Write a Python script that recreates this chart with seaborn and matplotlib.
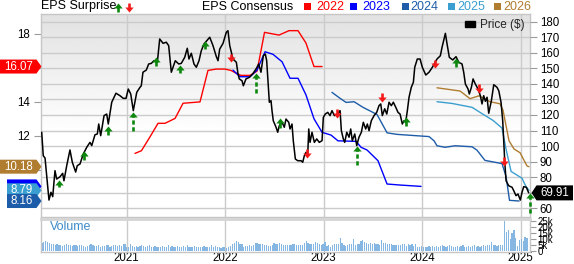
import numpy as np
import pandas as pd
import matplotlib
matplotlib.use("Agg")
import matplotlib.pyplot as plt
import matplotlib.transforms as mtransforms
from matplotlib.patches import Polygon, Rectangle, Patch
from matplotlib.lines import Line2D
from matplotlib.path import Path
import seaborn as sns

sns.set_theme(style="white")
plt.rcParams['font.family'] = ['Liberation Sans', 'DejaVu Sans']

# ------------------------------------------------------------------ data
price_t = [2020.137, 2020.153, 2020.171, 2020.211, 2020.231, 2020.249, 2020.272, 2020.289, 2020.323, 2020.350,
           2020.363, 2020.391, 2020.424, 2020.448, 2020.482, 2020.498, 2020.526, 2020.559, 2020.594, 2020.627,
           2020.645, 2020.678, 2020.702, 2020.716, 2020.736, 2020.770, 2020.797, 2020.813, 2020.848, 2020.891,
           2020.932, 2020.965, 2020.993, 2021.016, 2021.041, 2021.067, 2021.102, 2021.135, 2021.148, 2021.165,
           2021.199, 2021.223, 2021.250, 2021.277, 2021.311, 2021.335, 2021.369, 2021.402, 2021.426, 2021.453,
           2021.493, 2021.528, 2021.554, 2021.589, 2021.615, 2021.632, 2021.656, 2021.683, 2021.707, 2021.734,
           2021.757, 2021.785, 2021.818, 2021.843, 2021.876, 2021.910, 2021.927, 2021.944, 2021.978, 2022.011,
           2022.028, 2022.046, 2022.079, 2022.113, 2022.130, 2022.143, 2022.171, 2022.184, 2022.211, 2022.245,
           2022.279, 2022.313, 2022.340, 2022.363, 2022.387, 2022.407, 2022.421, 2022.438, 2022.448, 2022.465,
           2022.475, 2022.488, 2022.516, 2022.533, 2022.549, 2022.577, 2022.600, 2022.617, 2022.645, 2022.658,
           2022.678, 2022.691, 2022.712, 2022.736, 2022.770, 2022.787, 2022.803, 2022.820, 2022.838, 2022.848,
           2022.861, 2022.881, 2022.905, 2022.929, 2022.955, 2022.983, 2022.996, 2023.016, 2023.041, 2023.064,
           2023.084, 2023.108, 2023.138, 2023.166, 2023.179, 2023.199, 2023.213, 2023.234, 2023.257, 2023.274,
           2023.290, 2023.315, 2023.335, 2023.358, 2023.382, 2023.402, 2023.426, 2023.443, 2023.460, 2023.483,
           2023.511, 2023.538, 2023.561, 2023.579, 2023.595, 2023.619, 2023.640, 2023.663, 2023.686, 2023.707,
           2023.731, 2023.754, 2023.775, 2023.798, 2023.815, 2023.832, 2023.849, 2023.866, 2023.889, 2023.910,
           2023.924, 2023.950, 2023.978, 2024.001, 2024.036, 2024.069, 2024.103, 2024.150, 2024.184, 2024.201,
           2024.235, 2024.252, 2024.275, 2024.310, 2024.343, 2024.371, 2024.404, 2024.421, 2024.438, 2024.465,
           2024.478, 2024.499, 2024.516, 2024.539, 2024.567, 2024.590, 2024.607, 2024.624, 2024.641, 2024.658,
           2024.675, 2024.702, 2024.726, 2024.759, 2024.777, 2024.800, 2024.817, 2024.827, 2024.838, 2024.851,
           2024.878, 2024.912, 2024.929, 2024.952, 2024.972, 2024.996, 2025.013, 2025.030, 2025.057, 2025.081]
price_v = [108.9, 93.8, 92.3, 65.3, 70.3, 67.5, 84.2, 78.8, 80.3, 82.5,
           77.7, 87.4, 97.5, 89.6, 83.3, 87.4, 88.5, 94.9, 99.2, 102.4,
           100.3, 107.3, 107.8, 114.2, 106.7, 119.6, 120.6, 114.2, 128.2, 134.0,
           132.4, 130.7, 130.7, 136.7, 133.5, 122.8, 134.6, 137.8, 138.8, 147.5,
           148.9, 152.8, 153.2, 154.9, 153.9, 168.9, 166.1, 166.8, 164.6, 147.5,
           154.9, 152.8, 153.2, 157.1, 162.9, 156.0, 159.7, 152.8, 150.7, 154.9,
           161.3, 165.7, 168.2, 170.0, 164.6, 157.5, 154.9, 162.4, 166.1, 173.2,
           174.2, 164.6, 156.0, 153.9, 146.4, 143.2, 142.0, 138.8, 143.2, 144.2,
           146.4, 149.6, 152.8, 147.5, 158.1, 159.2, 154.9, 137.8, 128.2, 129.2,
           122.8, 116.3, 112.1, 108.9, 113.1, 115.3, 112.1, 117.4, 115.3, 111.0,
           114.2, 103.5, 91.7, 90.6, 90.6, 89.6, 93.8, 96.0, 94.9, 111.0,
           102.4, 108.9, 102.4, 104.6, 102.4, 103.5, 118.5, 120.6, 121.7, 119.6,
           122.8, 119.6, 120.6, 122.8, 109.9, 104.6, 102.4, 108.9, 105.7, 111.0,
           103.5, 107.8, 100.3, 105.7, 108.9, 115.3, 111.0, 114.2, 109.9, 116.3,
           119.6, 121.7, 126.0, 127.1, 119.6, 124.0, 120.6, 128.2, 126.0, 128.2,
           125.0, 121.7, 120.6, 114.2, 116.3, 115.3, 122.8, 131.4, 137.8, 141.0,
           150.7, 156.0, 156.0, 150.7, 145.7, 147.5, 150.7, 156.0, 158.1, 163.5,
           172.5, 165.7, 157.1, 155.4, 157.5, 153.9, 152.8, 147.5, 139.9, 136.7,
           133.5, 137.8, 143.2, 139.9, 136.7, 132.4, 127.1, 132.4, 128.8, 131.4,
           121.1, 129.2, 139.5, 137.8, 135.6, 128.2, 116.3, 103.5, 89.6, 77.7,
           74.5, 73.5, 71.3, 68.1, 69.2, 65.3, 70.3, 73.9, 73.5, 69.9]
last_price = 69.91

eps22_t = [2021.084, 2021.150, 2021.237, 2021.318, 2021.389, 2021.491, 2021.572, 2021.744, 2021.825, 2021.907,
           2021.998, 2022.059, 2022.120, 2022.160, 2022.252, 2022.323, 2022.399, 2022.546, 2022.648, 2022.739,
           2022.820, 2022.901, 2022.983]
eps22_v = [10.96, 11.12, 11.94, 12.73, 12.73, 13.02, 13.91, 13.99, 15.84, 15.92,
           15.92, 15.84, 15.65, 15.55, 15.55, 15.80, 18.08, 17.92, 18.18, 18.18,
           17.45, 16.07, 16.07]
eps23_t = [2022.079, 2022.150, 2022.252, 2022.323, 2022.404, 2022.485, 2022.577, 2022.658, 2022.739, 2022.820,
           2022.901, 2022.983, 2023.074, 2023.145, 2023.328, 2023.379, 2023.440, 2023.551, 2023.643, 2023.775,
           2023.988]
eps23_v = [15.86, 15.47, 15.47, 15.86, 16.94, 16.79, 16.35, 15.38, 15.38, 14.40,
           13.00, 12.20, 12.04, 11.70, 11.67, 11.32, 11.16, 10.53, 9.16, 9.10,
           9.02]
eps24_t = [2023.084, 2023.166, 2023.227, 2023.308, 2023.399, 2023.541, 2023.643, 2023.744, 2024.069, 2024.120,
           2024.150, 2024.231, 2024.333, 2024.506, 2024.556, 2024.637, 2024.810, 2024.851, 2024.886, 2024.983]
eps24_v = [14.55, 14.20, 13.96, 14.00, 13.67, 13.25, 12.17, 12.08, 11.95, 11.70,
           11.41, 11.32, 11.41, 11.35, 11.15, 10.55, 10.36, 9.60, 8.20, 8.16]
eps25_t = [2024.150, 2024.302, 2024.506, 2024.607, 2024.719, 2024.810, 2024.851, 2024.902, 2025.013, 2025.054,
           2025.084]
eps25_v = [14.00, 13.90, 13.67, 13.30, 12.90, 12.45, 11.20, 9.90, 9.50, 9.00,
           8.79]
eps26_t = [2024.150, 2024.384, 2024.485, 2024.577, 2024.688, 2024.790, 2024.820, 2024.881, 2024.932, 2024.993,
           2025.064, 2025.084]
eps26_v = [14.82, 14.63, 14.18, 14.35, 14.00, 13.88, 13.50, 11.70, 11.22, 11.00,
           10.22, 10.18]
fiscal_years = ["2022", "2023", "2024", "2025", "2026"]
eps_last_label = {"2022": "16.07", "2023": None, "2024": "8.16", "2025": "8.79", "2026": "10.18"}

# EPS surprise arrows (beat = up, miss = down), head and tail in price units
beat_t = [2020.316, 2020.567, 2020.813, 2021.067, 2021.301, 2021.545, 2021.799, 2022.313, 2022.559,
          2023.335, 2023.832, 2024.338, 2025.094]
beat_tip = [78.4, 96.7, 112.7, 121.7, 157.1, 152.3, 167.8, 146.8, 117.9, 100.3, 118.5, 156.4, 70.0]
beat_tail = [73.5, 91.3, 107.3, 109.5, 151.3, 147.0, 162.4, 134.0, 111.6, 88.0, 112.7, 150.7, 57.2]
miss_t = [2022.062, 2022.827, 2023.138, 2023.589, 2024.127, 2024.572, 2024.827]
miss_tip = [154.3, 92.3, 118.1, 128.2, 150.2, 134.1, 87.0]
miss_tail = [159.2, 98.1, 123.9, 134.1, 155.6, 139.9, 92.8]

# weekly volume (thousands)
vol_start = "2020-02-21"
vol_2020 = [7.0, 7.5, 8.0, 7.5, 6.5, 5.5, 6.0, 5.0, 5.5, 4.5,
            5.0, 4.0, 5.0, 5.5, 4.5, 5.0, 4.0, 4.5, 5.0, 4.0,
            4.5, 5.0, 4.0, 3.5, 4.0, 4.5, 6.0, 5.0, 4.0, 4.0,
            4.5, 3.5, 4.0, 4.0, 4.5, 5.0, 3.5, 4.0, 4.5, 5.0,
            4.0, 5.0, 4.0, 5.5, 6.0]
vol_2021 = [3.0, 3.5, 5.5, 4.0, 3.5, 4.0, 3.5, 4.0, 4.5, 4.0,
            3.5, 4.0, 4.5, 3.5, 3.5, 4.0, 3.5, 3.0, 3.5, 4.0,
            3.5, 3.5, 4.5, 3.5, 4.0, 3.0, 3.5, 4.0, 3.5, 3.5,
            4.0, 3.5, 4.5, 3.0, 3.5, 3.5, 4.0, 3.0, 3.5, 3.0,
            3.5, 4.0, 3.0, 3.5, 3.5, 4.5, 3.5, 4.0, 3.5, 3.0,
            2.5, 3.0]
vol_2022 = [3.5, 2.5, 3.5, 4.0, 6.0, 6.5, 8.0, 7.5, 6.0, 5.5,
            3.5, 4.0, 4.0, 4.5, 4.0, 5.0, 6.5, 7.0, 6.0, 6.0,
            5.5, 4.5, 5.0, 4.0, 4.0, 5.0, 7.0, 6.0, 6.0, 6.5,
            5.5, 5.0, 4.5, 5.0, 5.0, 4.5, 6.0, 5.5, 5.0, 4.5,
            5.0, 4.5, 6.5, 8.0, 6.5, 6.0, 5.5, 6.0, 7.5, 6.5,
            5.5, 5.0]
vol_2023 = [5.5, 7.5, 4.0, 4.5, 3.5, 5.0, 5.5, 6.0, 6.0, 11.0,
            7.0, 5.0, 4.0, 4.5, 5.5, 6.0, 10.0, 5.0, 5.5, 6.0,
            8.0, 9.0, 7.5, 6.5, 5.5, 7.0, 6.0, 6.5, 6.0, 5.5,
            5.0, 9.0, 7.0, 6.5, 5.5, 6.0, 5.5, 5.0, 4.5, 4.5,
            5.0, 5.0, 6.0, 5.5, 4.0, 5.5, 5.0, 6.0, 4.0, 6.0,
            3.5, 3.0]
vol_2024 = [4.0, 3.5, 3.5, 3.5, 4.0, 3.5, 4.0, 3.5, 4.0, 3.5,
            4.0, 4.5, 4.0, 3.5, 4.0, 4.5, 4.0, 3.5, 3.5, 4.0,
            3.5, 4.0, 4.5, 3.5, 3.5, 4.0, 3.5, 4.0, 4.5, 3.5,
            4.0, 3.5, 4.0, 5.0, 4.0, 4.5, 5.0, 7.5, 5.0, 4.5,
            4.0, 4.5, 5.0, 4.5, 25.0, 16.0, 18.0, 10.0, 15.0, 18.0,
            11.0, 4.0]
vol_2025 = [9.0, 10.0, 8.0, 12.0, 11.0]

year_ticks = [2021, 2022, 2023, 2024, 2025]
eps_ticks = [10, 12, 14, 16, 18]
price_ticks = list(range(60, 181, 10))
vol_ticks = [0, 5, 10, 15, 20, 25]
vol_tick_labels = ["0", "5k", "10k", "15k", "20k", "25k"]

# ------------------------------------------------------------------ style
C = {"2022": "#ff0000", "2023": "#0000ff", "2024": "#1d5ca8", "2025": "#3a9fd0", "2026": "#b07c30"}
GREEN = "#0d870d"
RED = "#f41a1a"
GRID = "#cbcbcb"
W, H = 574, 264

assert len(price_t) == len(price_v), (len(price_t), len(price_v))

fig = plt.figure(figsize=(W / 100, H / 100), dpi=100)
fig.patch.set_facecolor("white")

ax = fig.add_axes([41 / W, 1 - 217 / H, (530 - 41) / W, (217 - 14) / H])   # EPS axis (left)
axp = ax.twinx()                                                           # price axis (right)
axv = fig.add_axes([41 / W, 1 - 251.5 / H, (530 - 41) / W, (251.5 - 219) / H])  # volume

XLIM = (2020.130, 2025.094)
for a in (ax, axp, axv):
    a.set_xlim(*XLIM)
ax.set_ylim(7.22, 19.16)
axp.set_ylim(54.4, 184.95)
axv.set_ylim(-0.6, 26.9)

# gradient background (grey at the top fading to white)
grad = np.concatenate([np.linspace(0.885, 1.0, 60), np.ones(40)])[:, None]
ax.imshow(grad, extent=[0, 1, 0, 1], origin="upper", transform=ax.transAxes, aspect="auto",
          cmap="gray", vmin=0, vmax=1, zorder=0, interpolation="bilinear")
ax.set_xlim(*XLIM)
ax.set_ylim(7.22, 19.16)

# grid: vertical at years, horizontal at price ticks
for yv in year_ticks:
    ax.axvline(yv, color=GRID, lw=1.0, zorder=0.5)
    axv.axvline(yv, color=GRID, lw=1.0, zorder=0.5)
blend = mtransforms.blended_transform_factory(ax.transAxes, axp.transData)
ax.hlines(price_ticks, 0, 1, transform=blend, color=GRID, lw=1.0, zorder=0.5)

# EPS consensus lines
eps_df = pd.concat([
    pd.DataFrame({"t": eps22_t, "eps": eps22_v, "fy": "2022"}),
    pd.DataFrame({"t": eps23_t, "eps": eps23_v, "fy": "2023"}),
    pd.DataFrame({"t": eps24_t, "eps": eps24_v, "fy": "2024"}),
    pd.DataFrame({"t": eps25_t, "eps": eps25_v, "fy": "2025"}),
    pd.DataFrame({"t": eps26_t, "eps": eps26_v, "fy": "2026"}),
])
sns.lineplot(data=eps_df, x="t", y="eps", hue="fy", palette=C, ax=ax, legend=False,
             estimator=None, sort=False, linewidth=1.0, zorder=2)

# price
sns.lineplot(x=price_t, y=price_v, ax=axp, color="black", linewidth=1.1, sort=False,
             estimator=None, zorder=3)

# surprise arrows
HEAD_UP = Path([(-1, -1.2), (1, -1.2), (0, 0), (-1, -1.2)],
               [Path.MOVETO, Path.LINETO, Path.LINETO, Path.CLOSEPOLY])
HEAD_DN = Path([(-1, 1.2), (1, 1.2), (0, 0), (-1, 1.2)],
               [Path.MOVETO, Path.LINETO, Path.LINETO, Path.CLOSEPOLY])


def draw_arrow(x, tip, tail, color, trans, head_off, dash_thresh, add):
    up = tip > tail
    end = tip - head_off if up else tip + head_off
    dashed = abs(tip - tail) > dash_thresh
    stem = Line2D([x, x], [tail, end], color=color, lw=1.9, transform=trans,
                  linestyle=(0, (1.6, 1.0)) if dashed else "-",
                  solid_capstyle="butt", dash_capstyle="butt", zorder=6, clip_on=False)
    head = Line2D([x], [tip], marker=HEAD_UP if up else HEAD_DN, markersize=7.2, color=color,
                  markeredgewidth=0, linestyle="none", transform=trans, zorder=7, clip_on=False)
    add(stem)
    add(head)


for t, tp, tl in zip(beat_t, beat_tip, beat_tail):
    draw_arrow(t, tp, tl, GREEN, axp.transData, 2.2, 8, axp.add_line)
for t, tp, tl in zip(miss_t, miss_tip, miss_tail):
    draw_arrow(t, tp, tl, RED, axp.transData, 2.2, 8, axp.add_line)

# volume bars
vol = vol_2020 + vol_2021 + vol_2022 + vol_2023 + vol_2024 + vol_2025
vdates = pd.date_range(vol_start, periods=len(vol), freq="7D")
vt = vdates.year + (vdates.dayofyear - 1) / 365.25
axv.bar(vt, vol, width=0.0125, color="#86b6e2", edgecolor="none", zorder=2)

# ------------------------------------------------------------------ axes styling
for a in (ax, axp, axv):
    a.grid(False)
for s in ax.spines.values():
    s.set_color("#c6c6c6")
    s.set_linewidth(1.0)
for s in axp.spines.values():
    s.set_visible(False)
for s in axv.spines.values():
    s.set_color("#c6c6c6")
    s.set_linewidth(1.0)
axv.spines["top"].set_linewidth(2.0)
axv.spines["top"].set_color("#d4d4d4")

# tick labels hidden where the value tags sit on top of them
hidden_eps = {10, 16}
hidden_price = {70}

ax.set_xticks(year_ticks)
ax.tick_params(axis="x", length=0, labelbottom=False)
axp.tick_params(axis="x", length=0, labelbottom=False)
ax.set_yticks(eps_ticks)
ax.set_yticklabels(["" if v in hidden_eps else str(v) for v in eps_ticks])
ax.tick_params(axis="y", left=True, right=False, labelleft=True, labelright=False,
               length=5, width=0.8, color="#9a9a9a", pad=3, labelsize=8.3, labelcolor="black")
axp.set_yticks(price_ticks)
axp.set_yticklabels(["" if v in hidden_price else str(v) for v in price_ticks])
axp.tick_params(axis="y", left=False, right=True, labelleft=False, labelright=True,
                length=5, width=0.8, color="#9a9a9a", pad=2, labelsize=8.3, labelcolor="black")
ax.set_xlabel("")
ax.set_ylabel("")
axp.set_xlabel("")
axp.set_ylabel("")

axv.set_xticks(year_ticks)
axv.set_xticklabels([str(y) for y in year_ticks])
axv.tick_params(axis="x", length=0, pad=0.5, labelsize=8.3, labelcolor="black")
axv.yaxis.tick_right()
axv.set_yticks(vol_ticks)
axv.set_yticklabels(vol_tick_labels)
axv.tick_params(axis="y", length=4, width=0.8, color="#9a9a9a", pad=1.5, labelsize=7.0,
                labelcolor="black")
axv.set_facecolor("white")
axv.text(0.018, 0.76, "Volume", transform=axv.transAxes, color="#3d8ac9",
         fontsize=9, ha="left", va="center")

# Price legend
axp.legend(handles=[Patch(facecolor="black", edgecolor="black", label="Price ($)")],
           loc="upper right", bbox_to_anchor=(0.99, 0.975), frameon=False, fontsize=8.5,
           borderpad=0, borderaxespad=0, handlelength=0.85, handleheight=0.45, handletextpad=0.45)


# ------------------------------------------------------------------ value tags
def ypix(a, v):
    return a.transData.transform((XLIM[0], v))[1]


tag_left_edge = {"2022": 0, "2026": 0, "2023": 7, "2025": 7, "2024": 7}


def tag_left(v, color, label, x0):
    y = ypix(ax, v)
    poly = [(x0, y - 7), (36.5, y - 7), (41.5, y), (36.5, y + 7), (x0, y + 7)]
    fig.add_artist(Polygon([(px / W, py / H) for px, py in poly], closed=True,
                           transform=fig.transFigure, facecolor=color, edgecolor="none", zorder=5))
    if label:
        fig.text((x0 + 37) / 2 / W, y / H, label, color="white", fontsize=8.3, ha="center",
                 va="center", zorder=6)


last_eps = {"2022": eps22_v[-1], "2023": eps23_v[-1], "2024": eps24_v[-1],
            "2025": eps25_v[-1], "2026": eps26_v[-1]}
for fy in ["2022", "2026", "2023", "2025", "2024"]:
    tag_left(last_eps[fy], C[fy], eps_last_label[fy], tag_left_edge[fy])

yp = ypix(axp, last_price)
poly = [(531.5, yp), (536.5, yp - 7.5), (573, yp - 7.5), (573, yp + 7.5), (536.5, yp + 7.5)]
fig.add_artist(Polygon([(px / W, py / H) for px, py in poly], closed=True,
                       transform=fig.transFigure, facecolor="black", edgecolor="none", zorder=5))
fig.text(554.5 / W, yp / H, f"{last_price:.2f}", color="white", fontsize=8.3,
         ha="center", va="center", zorder=6)

# ------------------------------------------------------------------ header
HY = 1 - 6.5 / H
fig.text(41 / W, HY, "EPS Surprise", fontsize=9, ha="left", va="center", color="black")
fig.text(202.5 / W, HY, "EPS Consensus", fontsize=9, ha="left", va="center", color="black")
ftr = fig.transFigure
draw_arrow(117.5 / W, 1 - 2.5 / H, 1 - 11.5 / H, GREEN, ftr, 3 / H, 1, fig.add_artist)
draw_arrow(128.5 / W, 1 - 11.5 / H, 1 - 2.5 / H, RED, ftr, 3 / H, 1, fig.add_artist)

sq_x = [303.5, 350.0, 401.5, 448.0, 493.5]
tx_x = [316.5, 362.0, 410.0, 457.0, 503.0]
for fy, sx, tx in zip(fiscal_years, sq_x, tx_x):
    fig.add_artist(Rectangle((sx / W, 1 - 9.5 / H), 7 / W, 7 / H, transform=ftr,
                             facecolor=C[fy], edgecolor="none"))
    fig.text(tx / W, HY, fy, fontsize=9, ha="left", va="center", color=C[fy])

fig.savefig("out.png", dpi=100, facecolor="white")
